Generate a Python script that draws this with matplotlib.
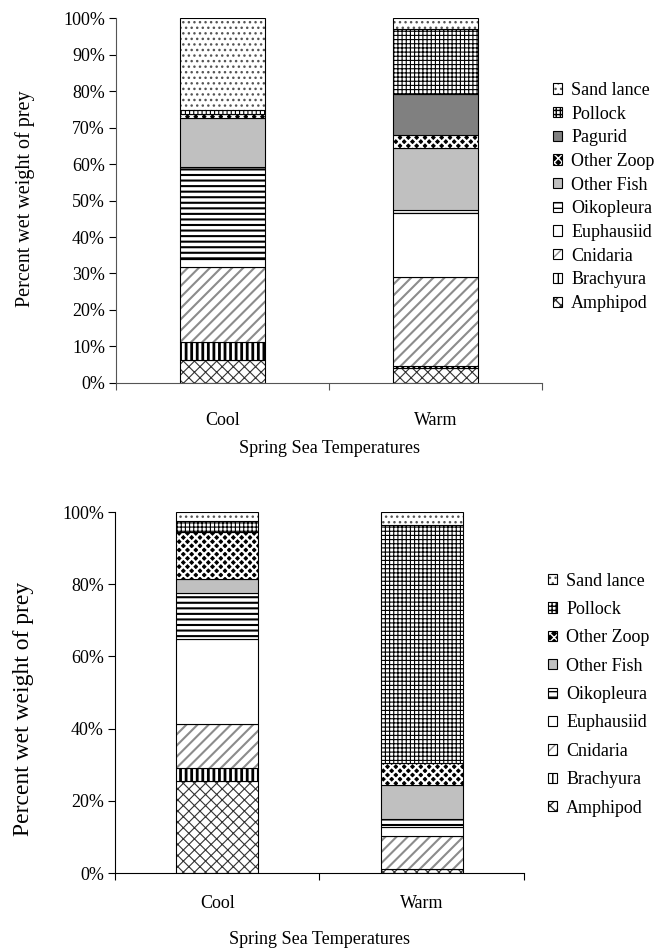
import numpy as np
import matplotlib.pyplot as plt
from matplotlib.patches import Patch
from matplotlib.ticker import PercentFormatter
from matplotlib.legend_handler import HandlerTuple

plt.rcParams['font.family'] = ['Liberation Serif', 'DejaVu Serif']

categories = ['Cool', 'Warm']

# upper panel: percent wet weight by prey (Cool, Warm), stacked bottom -> top
prey_top = ['Amphipod', 'Brachyura', 'Cnidaria', 'Euphausiid', 'Oikopleura',
            'Other Fish', 'Other Zoop', 'Pagurid', 'Pollock', 'Sand lance']
cool_top = [6.3, 5.0, 20.4, 2.2, 25.2, 13.4, 1.1, 0.0, 1.2, 25.2]
warm_top = [4.2, 0.4, 24.5, 17.6, 0.6, 17.0, 3.6, 11.2, 17.8, 3.1]

# lower panel
prey_bottom = ['Amphipod', 'Brachyura', 'Cnidaria', 'Euphausiid', 'Oikopleura',
               'Other Fish', 'Other Zoop', 'Pollock', 'Sand lance']
cool_bottom = [25.6, 3.6, 12.2, 23.3, 12.9, 3.8, 13.1, 2.9, 2.6]
warm_bottom = [1.0, 0.0, 9.2, 2.6, 2.3, 9.3, 6.0, 66.0, 3.6]

# face colour, hatch, hatch colour, hatch line width
styles = {
    'Amphipod': ('white', 'xxx', '#333333', 0.8),
    'Brachyura': ('white', '|||', 'black', 2.0),
    'Cnidaria': ('white', '///', '#8c8c8c', 1.5),
    'Euphausiid': ('white', '', 'black', 1.0),
    'Oikopleura': ('white', '---', 'black', 1.5),
    'Other Fish': ('#c0c0c0', '', 'black', 1.0),
    'Other Zoop': ('black', 'xxxx', 'white', 1.6),
    'Pagurid': ('#808080', '', 'black', 1.0),
    'Pollock': ('white', '++++', 'black', 0.8),
    'Sand lance': ('white', '...', '#555555', 1.0),
}


def set_hlw(patches, lw):
    for p in patches:
        if hasattr(p, 'set_hatch_linewidth'):
            p.set_hatch_linewidth(lw)


def draw_panel(ax, prey, cool, warm, ystep, spine_col, leg_xy, leg_sp):
    x = np.arange(len(categories)) + 0.5
    bottom = np.zeros(len(categories))
    handles = []
    for i, name in enumerate(prey):
        vals = np.array([cool[i], warm[i]])
        face, hatch, hcol, hlw = styles[name]
        with plt.rc_context({'hatch.linewidth': hlw}):
            bars = ax.bar(x, vals, 0.4, bottom=bottom, color=face, hatch=hatch,
                          edgecolor=hcol, linewidth=0)
            h1 = Patch(facecolor=face, hatch=hatch, edgecolor=hcol, linewidth=0)
        set_hlw(list(bars) + [h1], hlw)
        ax.bar(x, vals, 0.4, bottom=bottom, fill=False, edgecolor='black',
               linewidth=0.8)
        h2 = Patch(fill=False, edgecolor='black', linewidth=0.8)
        handles.append((h1, h2))
        bottom += vals

    ax.set_xlim(0, 2)
    ax.set_ylim(0, 100)
    ax.set_yticks(np.arange(0, 101, ystep))
    ax.yaxis.set_major_formatter(PercentFormatter(decimals=0))
    ax.set_xticks([0, 1, 2])
    ax.set_xticklabels([])
    ax.set_xticks(x, categories, minor=True)
    ax.tick_params(axis='x', which='major', direction='out', length=5,
                   color=spine_col)
    ax.tick_params(axis='y', direction='out', length=5, labelsize=13, pad=3)
    for s in ['top', 'right']:
        ax.spines[s].set_visible(False)
    for s in ['left', 'bottom']:
        ax.spines[s].set_color(spine_col)

    ax.legend(handles[::-1], prey[::-1], handler_map={tuple: HandlerTuple(ndivide=1)},
              loc='center left', bbox_to_anchor=leg_xy,
              bbox_transform=ax.figure.transFigure, frameon=False, fontsize=13,
              handlelength=0.5, handleheight=0.5, handletextpad=0.5,
              labelspacing=leg_sp, borderpad=0, borderaxespad=0)


fig = plt.figure(figsize=(6.54, 9.48), dpi=100)

ax1 = fig.add_axes([0.1774, 0.5960, 0.6514, 0.3850])
draw_panel(ax1, prey_top, cool_top, warm_top, 10, '#555555',
           (553 / 654, 1 - 197 / 948), 0.37)
ax1.tick_params(axis='x', which='minor', length=0, pad=21, labelsize=13)
ax1.set_xlabel('Spring Sea Temperatures', fontsize=13)
ax1.xaxis.set_label_coords(0.5, -0.156)
ax1.set_ylabel('Percent wet weight of prey', fontsize=14.5)
ax1.yaxis.set_label_coords(-0.19, 0.504)

ax2 = fig.add_axes([0.1758, 0.0791, 0.6254, 0.3808])
draw_panel(ax2, prey_bottom, cool_bottom, warm_bottom, 20, 'black',
           (548 / 654, 1 - 694.6 / 948), 0.63)
ax2.tick_params(axis='x', which='minor', length=0, pad=16, labelsize=13)
ax2.set_xlabel('Spring Sea Temperatures', fontsize=13)
ax2.xaxis.set_label_coords(0.5, -0.16)
ax2.set_ylabel('Percent wet weight of prey', fontsize=17)
ax2.yaxis.set_label_coords(-0.198, 0.454)

plt.savefig('out.png', dpi=100)
